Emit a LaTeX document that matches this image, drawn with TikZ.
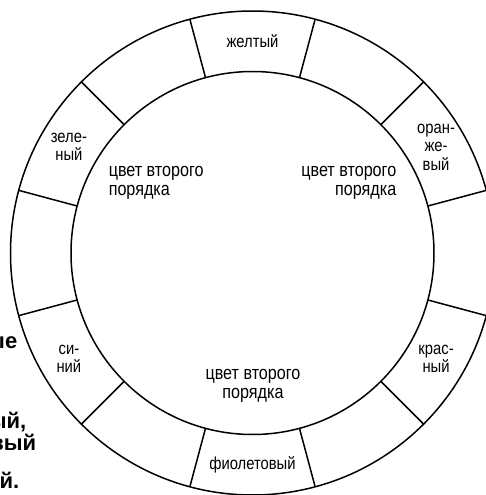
\documentclass[tikz,border=0pt]{standalone}
\usepackage{fontspec}
\usepackage{tikz}
\usetikzlibrary{calc}
\newfontfamily\lblfont[FakeStretch=0.85]{Liberation Sans}
\newfontfamily\bldfont{Liberation Sans}

\begin{document}
\begin{tikzpicture}[x=0.5pt,y=0.5pt,line width=0.75pt,
  seg/.style={align=center,inner sep=0pt,font=\lblfont\fontsize{8.7}{9.2}\selectfont},
  inner/.style={inner sep=0pt,font=\lblfont\fontsize{9.5}{9.3}\selectfont},
  frag/.style={anchor=east,inner sep=0pt,font=\bldfont\bfseries\fontsize{11}{11}\selectfont}]
  \useasboundingbox (0,0) rectangle (486,495);
  \clip (0,0) rectangle (486,495);
  \coordinate (c) at (252.5,242);
  % ring
  \draw (c) circle[radius=181.5];
  \draw (c) circle[radius=242];
  \foreach \a in {15,45,...,345} \draw ($(c)+(\a:181.5)$) -- ($(c)+(\a:242)$);
  % colours in the ring
  \foreach \a/\n/\t in {90/yel/желтый,30/ora/{оран-\\же-\\вый},-30/red/{крас-\\ный},
      -90/vio/фиолетовый,210/blu/{си-\\ний},150/gre/{зеле-\\ный}}
    \node[seg] (\n) at ($(c)+(\a:212)$) {\t};
  % second order colours
  \node[inner,anchor=west,align=left] (mixl) at (108,312) {цвет второго\\порядка};
  \node[inner,anchor=east,align=right] (mixr) at (397,312) {цвет второго\\порядка};
  \node[inner,align=center] (mixb) at (253,109) {цвет второго\\порядка};
  % cut text at the margin
  \node[frag] (f1) at (18,152) {ые};
  \node[frag] (f2) at (27,73) {ый,};
  \node[frag] (f3) at (37,53) {вый};
  \node[frag] (f4) at (20,15) {й.};
\end{tikzpicture}
\end{document}
